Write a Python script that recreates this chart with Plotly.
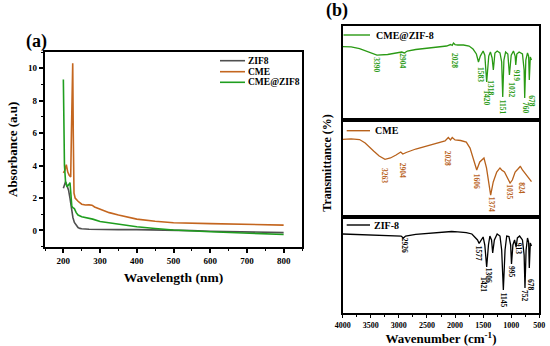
import plotly.graph_objects as go

W, H = 550, 346
FONT = "Liberation Serif, Times New Roman, serif"

# ---------------- Panel (a): UV-Vis absorbance ----------------
uv_zif8_wl = [200, 203, 206, 210, 214, 218, 222, 226, 230, 235, 240, 245, 250, 270, 300,
              350, 400, 450, 500, 550, 600, 650, 700, 750, 800]
uv_zif8_abs = [2.6, 2.85, 3.0, 2.75, 2.5, 2.0, 1.3, 0.8, 0.5, 0.3, 0.18, 0.13, 0.11, 0.08, 0.06,
               0.05, 0.05, 0.04, 0.03, -0.01, -0.05, -0.08, -0.1, -0.12, -0.13]

uv_cme_wl = [200, 204, 208, 212, 216, 220, 222, 224, 225.5, 227, 229, 232, 240, 250, 260, 270,
             278, 285, 300, 325, 350, 400, 450, 500, 600, 700, 800]
uv_cme_abs = [3.55, 3.7, 4.05, 3.6, 3.4, 3.3, 6.0, 9.5, 10.3, 6.0, 2.3, 2.0, 1.8, 1.62, 1.57, 1.58,
              1.56, 1.45, 1.3, 1.1, 0.95, 0.7, 0.57, 0.48, 0.42, 0.37, 0.33]

uv_cmezif_wl = [200, 201.5, 203, 206, 210, 214, 218, 220, 223, 226, 230, 235, 240, 250, 260, 280,
                300, 350, 400, 450, 500, 600, 700, 800]
uv_cmezif_abs = [9.3, 7.0, 4.0, 3.0, 2.7, 2.8, 2.95, 2.4, 1.5, 1.4, 1.35, 1.1, 0.95, 0.85, 0.8, 0.7,
                 0.55, 0.38, 0.23, 0.12, 0.03, -0.08, -0.17, -0.25]

uv_names = ["ZIF8", "CME", "CME@ZIF8"]
uv_xticks = [200, 300, 400, 500, 600, 700, 800]
uv_yticks = [0, 2, 4, 6, 8, 10]

# ---------------- Panel (b): FTIR transmittance ----------------
ir_cmezif_wn = [4000, 3850, 3700, 3550, 3390, 3200, 3050, 2950, 2904, 2850, 2700, 2500, 2300, 2150,
                2080, 2050, 2028, 2000, 1950, 1850, 1750, 1680, 1620, 1583, 1550, 1500, 1470, 1437,
                1400, 1370, 1340, 1318, 1290, 1250, 1200, 1170, 1151, 1130, 1100, 1060, 1032, 1000,
                960, 930, 919, 900, 860, 800, 770, 760, 740, 710, 690, 678, 660, 640]
ir_cmezif_t = [78, 77.7, 76, 72.3, 69.1, 69.7, 71.3, 72.3, 71.3, 73.4, 75, 76.6, 77.7, 78.7,
               80.3, 79.3, 81.9, 80.3, 79.8, 79.8, 78.7, 75.5, 70.2, 61.7, 68, 73.4, 69, 40.4,
               68, 72.3, 66, 53.2, 71.3, 73.4, 71.3, 61.7, 24.5, 63.8, 72.3, 70.2, 47.9, 69,
               73.4, 68, 58.5, 70.2, 72.3, 70.2, 53.2, 23.4, 63.8, 71.3, 68, 42.6, 67, 63.8]

ir_cme_wn = [4000, 3850, 3700, 3600, 3450, 3350, 3247, 3150, 3050, 2967, 2930, 2870, 2700, 2500,
             2300, 2178, 2120, 2080, 2050, 2000, 1900, 1800, 1733, 1670, 1614, 1560, 1500, 1485,
             1440, 1400, 1366, 1320, 1258, 1200, 1170, 1120, 1070, 1020, 980, 930, 880, 840, 831,
             800, 760, 727, 680, 639]
ir_cme_t = [80, 80.4, 79.8, 76.2, 68, 62.8, 59.4, 60.7, 63.8, 66.9, 64.8, 66.4, 70, 73.1,
            76.2, 78.3, 81.9, 79.4, 81.9, 79.4, 78.8, 77.2, 71, 58.6, 48.3, 56.6, 60.7, 60.7,
            50.4, 32.8, 22.4, 35.9, 46.2, 50.4, 48.3, 46.2, 40, 34.8, 37.9, 46.2, 49.3, 51.9, 51.4,
            48.3, 45.2, 43.1, 40, 36.2]

ir_zif_wn = [4000, 3800, 3600, 3400, 3200, 3050, 2960, 2920, 2880, 2700, 2500, 2300, 2150, 2060,
             1950, 1800, 1700, 1640, 1600, 1571, 1540, 1500, 1470, 1437, 1405, 1380, 1350, 1330,
             1300, 1250, 1200, 1170, 1140, 1110, 1080, 1040, 1010, 995, 970, 940, 913, 890, 850,
             800, 770, 755, 735, 710, 690, 678, 660, 640]
ir_zif_t = [82.1, 81.6, 81.1, 81.1, 80.5, 80, 80, 77.9, 80, 81.6, 82.6, 83.1, 84.2, 84.7,
            84.2, 83.6, 82.1, 79, 75.9, 72.3, 75.9, 79, 70.7, 47.9, 70.7, 80, 75.9, 62.4,
            75.9, 82.1, 80, 65.5, 24.1, 65.5, 80, 79.5, 70.7, 51, 70.7, 75.9, 68.6, 78, 80,
            75.9, 60.4, 26.2, 65.5, 78, 73.8, 46.9, 72.8, 69.7]

ir_names = ["CME@ZIF-8", "CME", "ZIF-8"]
ir_xticks = [4000, 3500, 3000, 2500, 2000, 1500, 1000, 500]

# peak labels (text) for each FTIR spectrum
peaks_cmezif = ["3390", "2904", "2028", "1583", "1420", "1318", "1151", "1032", "919", "760", "678"]
peaks_cme = ["3263", "2904", "2028", "1606", "1374", "1035", "824"]
peaks_zif = ["2926", "1577", "1421", "1306", "1145", "995", "913", "752", "678"]

# label placement (x in wavenumber, y in panel units)
pos_cmezif = [(3395, 58.5), (2950, 62.8), (2019, 62.8), (1556, 47.9), (1437, 23.4), (1365, 34),
              (1141, 13.8), (991, 31.9), (892, 46.8), (755, 12.8), (635, 20.2)]
pos_cme = [(3247, 43.1), (2932, 47.8), (2120, 60.7), (1615, 36.4), (1348, 12.6), (1034, 26.1),
           (831, 29.7)]
pos_zif = [(2909, 69.9), (1568, 62.4), (1484, 30.3), (1390, 39.6), (1141, 13.8), (991, 43.1),
           (874, 66.6), (755, 17.9), (648, 29.3)]

C_GRAY = "#505050"
C_ORANGE = "#c4661f"
C_GREEN = "#1f9e1f"
C_GREEN_B = "#2a9a14"
C_ORANGE_B = "#b8621c"

fig = go.Figure()

# panel (a) traces
for xs, ys, c, n in [(uv_zif8_wl, uv_zif8_abs, C_GRAY, uv_names[0]),
                     (uv_cme_wl, uv_cme_abs, C_ORANGE, uv_names[1]),
                     (uv_cmezif_wl, uv_cmezif_abs, C_GREEN, uv_names[2])]:
    fig.add_trace(go.Scatter(x=xs, y=ys, mode="lines", name=n, line=dict(color=c, width=1.6),
                             xaxis="x", yaxis="y", showlegend=False))

# panel (b) traces
for xs, ys, c, n, ax in [(ir_cmezif_wn, ir_cmezif_t, C_GREEN_B, ir_names[0], "2"),
                         (ir_cme_wn, ir_cme_t, C_ORANGE_B, ir_names[1], "3"),
                         (ir_zif_wn, ir_zif_t, "#000000", ir_names[2], "4")]:
    fig.add_trace(go.Scatter(x=xs, y=ys, mode="lines", name=n, line=dict(color=c, width=1.3),
                             xaxis="x" + ax, yaxis="y" + ax, showlegend=False))

def py(p):
    return 1 - p / H

def pxx(p):
    return p / W

tickfont_a = dict(family=FONT, size=9, color="black", weight="bold")
tickfont_b = dict(family=FONT, size=8, color="black", weight="bold")

ax_common = dict(showline=True, linecolor="black", mirror=True, showgrid=False, zeroline=False,
                 automargin=False)

layout = dict(
    template="none",
    width=W, height=H, margin=dict(l=0, r=0, t=0, b=0, pad=0),
    paper_bgcolor="white", plot_bgcolor="white", showlegend=False,
    xaxis=dict(domain=[pxx(45), pxx(302)], range=[150, 850], tickvals=uv_xticks,
               ticks="outside", ticklen=4, tickwidth=1.5, linewidth=2.2, tickcolor="black",
               minor=dict(dtick=50, ticks="outside", ticklen=2, tickwidth=1.2, tick0=150, tickcolor="black"),
               tickfont=tickfont_a, anchor="y",
               title=dict(text="Wavelength (nm)", font=dict(family=FONT, size=13.5, color="black", weight="bold"),
                          standoff=8), **ax_common),
    yaxis=dict(domain=[py(246.7), py(52)], range=[-1, 11], tickvals=uv_yticks,
               ticks="outside", ticklen=4, tickwidth=1.5, linewidth=2.2, tickcolor="black",
               minor=dict(dtick=1, tick0=-1, ticks="outside", ticklen=2, tickwidth=1.2, tickcolor="black"),
               tickfont=tickfont_a, anchor="x",
               title=dict(text="Absorbance (a.u)", font=dict(family=FONT, size=13, color="black", weight="bold"),
                          standoff=8), **ax_common),
)

ydoms = {"2": [py(120), py(26)], "3": [py(216.7), py(120)], "4": [py(313.3), py(216.7)]}
for k in ["2", "3", "4"]:
    bottom = (k == "4")
    layout["xaxis" + k] = dict(domain=[pxx(342.7), pxx(539.3)], range=[4000, 500], anchor="y" + k,
                               tickvals=ir_xticks, showticklabels=bottom, tickcolor="black",
                               ticks="outside" if bottom else "", ticklen=3, tickwidth=1.3,
                               minor=dict(dtick=250, ticks="outside", ticklen=2, tickwidth=1, tickcolor="black") if bottom else dict(ticks=""),
                               tickfont=tickfont_b, linewidth=1.8, **ax_common)
    layout["yaxis" + k] = dict(domain=ydoms[k], range=[0, 100], anchor="x" + k, showticklabels=False,
                               ticks="", linewidth=1.8, **ax_common)
layout["xaxis4"]["title"] = dict(text="Wavenumber (cm<sup>-1</sup>)",
                                 font=dict(family=FONT, size=13, color="black", weight="bold"), standoff=6)

fig.update_layout(**layout)

annotations = []
# panel letters
annotations.append(dict(text="(a)", x=pxx(36), y=py(41.5), xref="paper", yref="paper", showarrow=False,
                        xanchor="center", yanchor="middle",
                        font=dict(family=FONT, size=18, color="black", weight="bold")))
annotations.append(dict(text="(b)", x=pxx(336.5), y=py(11), xref="paper", yref="paper", showarrow=False,
                        xanchor="center", yanchor="middle",
                        font=dict(family=FONT, size=18, color="black", weight="bold")))
# Transmittance title
annotations.append(dict(text="Transmittance (%)", x=pxx(326.7), y=py(163), xref="paper", yref="paper",
                        showarrow=False, textangle=-90, xanchor="center", yanchor="middle",
                        font=dict(family=FONT, size=12, color="black", weight="bold")))

shapes = []
# legend panel (a)
for i, (n, c) in enumerate(zip(uv_names, [C_GRAY, C_ORANGE, C_GREEN])):
    yy = py([60.7, 71.7, 82.3][i])
    shapes.append(dict(type="line", xref="paper", yref="paper", x0=pxx(220), x1=pxx(245), y0=yy, y1=yy,
                       line=dict(color=c, width=1.6)))
    annotations.append(dict(text=n, x=pxx(246), y=yy, xref="paper", yref="paper", xanchor="left",
                            yanchor="middle", showarrow=False,
                            font=dict(family=FONT, size=9.5, color="black", weight="bold")))

# legends panel (b)
leg_b = [(ir_names[0], C_GREEN_B, 343.5, 35, 374), (ir_names[1], C_ORANGE_B, 346.7, 130.7, 372.5),
         (ir_names[2], "#000000", 346.7, 225, 372)]
for n, c, x0, yy, xt in leg_b:
    shapes.append(dict(type="line", xref="paper", yref="paper", x0=pxx(x0), x1=pxx(370), y0=py(yy), y1=py(yy),
                       line=dict(color=c, width=1.4)))
    annotations.append(dict(text=n, x=pxx(xt), y=py(yy), xref="paper", yref="paper", xanchor="left",
                            yanchor="middle", showarrow=False,
                            font=dict(family=FONT, size=10, color="black", weight="bold")))

# peak labels
for labels, pos, c, k in [(peaks_cmezif, pos_cmezif, C_GREEN_B, "2"),
                          (peaks_cme, pos_cme, C_ORANGE_B, "3"),
                          (peaks_zif, pos_zif, "#000000", "4")]:
    for t, (x, y) in zip(labels, pos):
        annotations.append(dict(text=t, x=x, y=y, xref="x" + k, yref="y" + k, showarrow=False,
                                xanchor="center", yanchor="middle",
                                textangle=90, font=dict(family=FONT, size=7.5, color=c, weight="bold")))

fig.update_layout(annotations=annotations, shapes=shapes)
fig.write_html("out.html", config={"displayModeBar": False},
               post_script="document.body.style.margin='0px';document.body.style.padding='0px';")
